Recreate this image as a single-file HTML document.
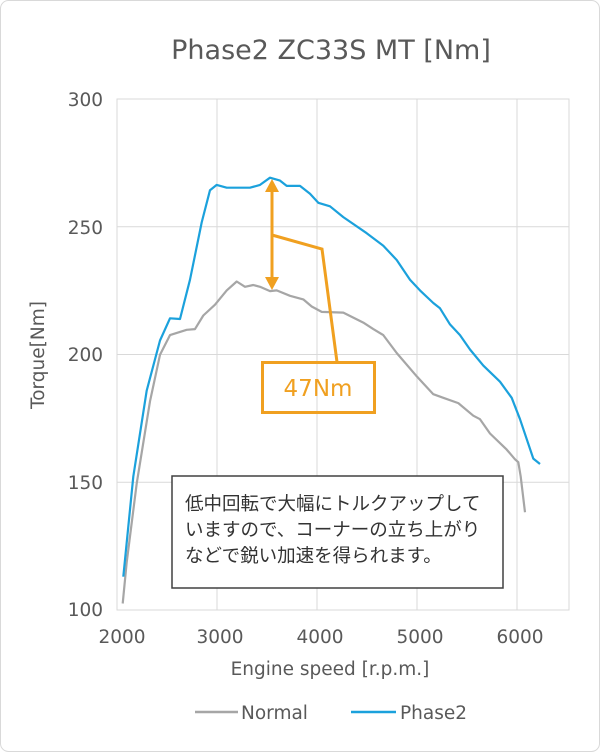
<!DOCTYPE html>
<html><head><meta charset="utf-8"><style>
html,body{margin:0;padding:0;background:#fff;}
svg{display:block;font-family:"DejaVu Sans","Noto Sans CJK JP",sans-serif;}
.jp{font-family:"Noto Sans CJK JP",sans-serif;}
</style></head><body>
<svg width="600" height="752" viewBox="0 0 600 752" xmlns="http://www.w3.org/2000/svg">
<rect x="0.5" y="0.5" width="599" height="751" rx="8" fill="#fff" stroke="#d9d9d9"/>
<text x="331" y="59" text-anchor="middle" font-size="27" fill="#595959">Phase2 ZC33S MT [Nm]</text>
<g stroke="#d9d9d9" stroke-width="1" fill="none">
<rect x="117" y="99" width="452" height="511"/>
<line x1="117" y1="226.75" x2="569" y2="226.75"/>
<line x1="117" y1="354.5" x2="569" y2="354.5"/>
<line x1="117" y1="482.25" x2="569" y2="482.25"/>
<line x1="217" y1="99" x2="217" y2="610"/>
<line x1="317" y1="99" x2="317" y2="610"/>
<line x1="417" y1="99" x2="417" y2="610"/>
<line x1="517" y1="99" x2="517" y2="610"/>
</g>
<g font-size="18.5" fill="#595959" text-anchor="end">
<text x="103" y="106">300</text>
<text x="103" y="234">250</text>
<text x="103" y="361">200</text>
<text x="103" y="489">150</text>
<text x="103" y="616">100</text>
</g>
<g font-size="18.5" fill="#595959" text-anchor="middle">
<text x="122" y="643">2000</text>
<text x="220" y="643">3000</text>
<text x="320" y="643">4000</text>
<text x="420" y="643">5000</text>
<text x="520" y="643">6000</text>
<text x="330" y="675">Engine speed [r.p.m.]</text>
<text transform="translate(44,355) rotate(-90)">Torque[Nm]</text>
</g>
<polyline fill="none" stroke="#a6a6a6" stroke-width="2.2" stroke-linejoin="round" points="122.7,603.5 126.7,562.3 136.7,483.6 150,401.3 160,354.8 170,335.1 186.7,329.8 195,329.1 203.3,315.5 215,304.7 226.7,290.4 236.7,281.5 245,286.8 253.3,285 260,286.8 270,291.1 276.7,290.4 290,295.8 303.3,299.4 311.7,306.5 321.7,311.9 343.3,312.6 363.3,322.6 373.3,329.1 383.3,335.1 396.7,353 416.7,376.3 433.3,394.2 443.3,397.8 458.3,403.1 473.3,415.7 480,419.2 490,433.5 506.7,449.6 515,459.3 518.3,462.2 520.7,476.5 525,512.3"/>
<polyline fill="none" stroke="#1ba1dc" stroke-width="2.2" stroke-linejoin="round" points="123.3,576.7 133.3,476.5 146.7,390.6 160,340.5 170,318.3 180,319 190,279.7 201.7,222.4 210,190.2 216.7,184.9 226.7,187.7 250,187.7 260,184.9 270,177.7 280,180.6 286.7,185.9 300,185.9 310,193.8 318.3,202.8 330,206.3 343.3,217.1 366.7,233.2 383.3,245.7 396.7,260 410,279.7 420,290.4 433.3,303 440,308.3 450,324.4 460,335.1 470,349.5 483.3,365.6 500,381.7 511.7,397.8 520,419.2 533.3,458.6 540,464"/>
<g stroke="#f0a020" stroke-width="3" fill="none">
<line x1="272" y1="190" x2="272" y2="280"/>
<polyline points="272,235 322,249 337,362"/>
<rect x="262.5" y="362.5" width="112" height="50"/>
</g>
<polygon points="272,179 265,192 279,192" fill="#f0a020"/>
<polygon points="272,290 265,277 279,277" fill="#f0a020"/>
<text x="318" y="396" text-anchor="middle" font-size="23" fill="#f0a020">47Nm</text>
<rect x="172" y="476" width="331" height="112" fill="#fff" stroke="#404040" stroke-width="1.5"/>
<g font-size="18.5" fill="#333" class="jp">
<text x="185" y="510">低中回転で大幅にトルクアップして</text>
<text x="185" y="536">いますので、コーナーの立ち上がり</text>
<text x="185" y="562">などで鋭い加速を得られます。</text>
</g>
<line x1="195" y1="712" x2="238" y2="712" stroke="#a6a6a6" stroke-width="2.5"/>
<text x="241" y="719" font-size="18.5" fill="#595959">Normal</text>
<line x1="351" y1="712" x2="396" y2="712" stroke="#1ba1dc" stroke-width="2.5"/>
<text x="400" y="719" font-size="18.5" fill="#595959">Phase2</text>
</svg>
</body></html>
